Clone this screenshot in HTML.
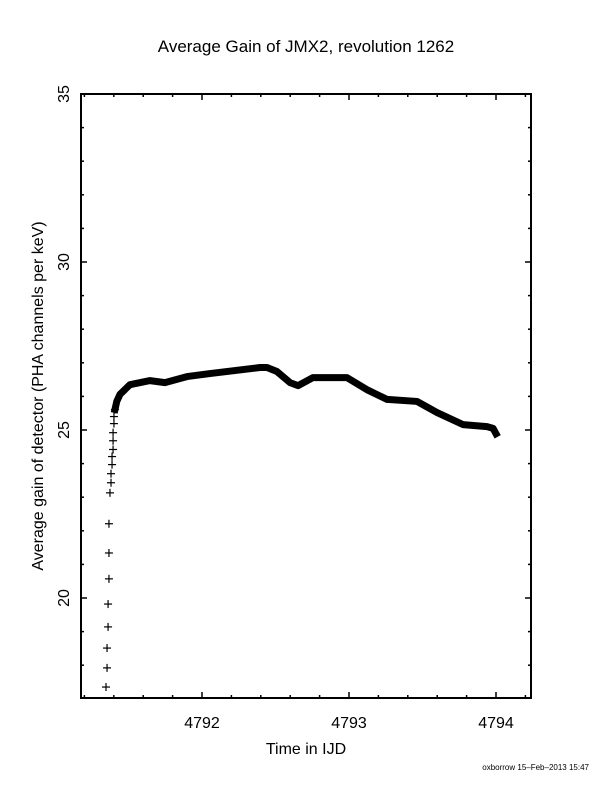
<!DOCTYPE html>
<html><head><meta charset="utf-8"><style>
body{margin:0;background:#fff}
svg{display:block;font-family:"Liberation Sans",sans-serif}
</style></head><body>
<svg width="612" height="792" viewBox="0 0 612 792" xmlns="http://www.w3.org/2000/svg">
<text x="306" y="52" font-size="17" text-anchor="middle">Average Gain of JMX2, revolution 1262</text>
<text x="306" y="754" font-size="16" text-anchor="middle">Time in IJD</text>
<text transform="translate(43,396) rotate(-90)" font-size="16" text-anchor="middle">Average gain of detector (PHA channels per keV)</text>
<text x="589" y="770" font-size="8" text-anchor="end">oxborrow 15–Feb–2013 15:47</text>
<rect x="81" y="94" width="450" height="604" fill="none" stroke="#000" stroke-width="2"/>
<g id="axes"></g>
<g id="marks"></g>
</svg>
<script>
const xTicks=[4792,4793,4794];
const yTicks=[20,25,30,35];
const sparseT=[4791.347,4791.354,4791.354,4791.361,4791.361,4791.367,4791.367,4791.367,4791.374,4791.381,4791.381,4791.388,4791.388,4791.395,4791.395,4791.395,4791.401,4791.401,4791.408];
const sparseV=[17.35,17.92,18.51,19.14,19.82,20.57,21.34,22.21,23.13,23.43,23.70,23.97,24.21,24.42,24.68,24.92,25.19,25.40,25.61];
const bandT=[4791.408,4791.42,4791.442,4791.51,4791.646,4791.748,4791.898,4792.054,4792.395,4792.442,4792.51,4792.599,4792.653,4792.755,4792.986,4793.122,4793.259,4793.463,4793.599,4793.776,4793.939,4793.98,4794.0];
const bandV=[25.61,25.85,26.06,26.35,26.47,26.41,26.59,26.68,26.86,26.86,26.74,26.41,26.32,26.56,26.56,26.20,25.91,25.85,25.52,25.16,25.10,25.05,24.89];
const NS="http://www.w3.org/2000/svg";
function X(t){return 202+(t-4792)*147;}
function Y(v){return 94+(35-v)*33.6;}
const axes=document.getElementById('axes'),marks=document.getElementById('marks');
function line(g,x1,y1,x2,y2,w,name){const l=document.createElementNS(NS,'line');
l.setAttribute('x1',x1);l.setAttribute('y1',y1);l.setAttribute('x2',x2);l.setAttribute('y2',y2);
l.setAttribute('stroke','#000');l.setAttribute('stroke-width',w);


g.appendChild(l);return l;}
function text(g,x,y,s,tr,name){const t=document.createElementNS(NS,'text');
t.setAttribute('x',x);t.setAttribute('y',y);t.setAttribute('font-size','16');t.setAttribute('text-anchor','middle');
if(tr)t.setAttribute('transform',tr);t.textContent=s;


g.appendChild(t);}
for(let i=0;i<=15;i++){const t=4791.2+i*0.2;const x=X(t);if(x>530)break;
const major=Math.abs(t-Math.round(t))<1e-6;const L=major?6:3;
line(axes,x,698,x,698-L,1.5,'x-tick');line(axes,x,94,x,94+L,1.5,'x-tick-top');}
xTicks.forEach(t=>text(axes,X(t),728,String(t),null,'x-tick-label'));
for(let v=18;v<=34;v++){const y=Y(v);const major=v%5===0;const L=major?6:3;
line(axes,81,y,81+L,y,1.5,'y-tick');line(axes,531,y,531-L,y,1.5,'y-tick-right');}
yTicks.forEach(v=>text(axes,69,Y(v),String(v),'rotate(-90 69 '+Y(v)+')','y-tick-label'));
for(let i=0;i<sparseT.length;i++){const x=X(sparseT[i]),y=Y(sparseV[i]);
line(marks,x-4,y,x+4,y,1.2,'data-cross-h');line(marks,x,y-4,x,y+4,1.2,'data-cross-v');}
const p=document.createElementNS(NS,'polyline');
p.setAttribute('points',bandT.map((t,i)=>X(t)+','+Y(bandV[i])).join(' '));
p.setAttribute('fill','none');p.setAttribute('stroke','#000');p.setAttribute('stroke-width','7');p.setAttribute('stroke-linejoin','round');p.setAttribute('stroke-linecap','square');


marks.appendChild(p);
</script>
</body></html>
